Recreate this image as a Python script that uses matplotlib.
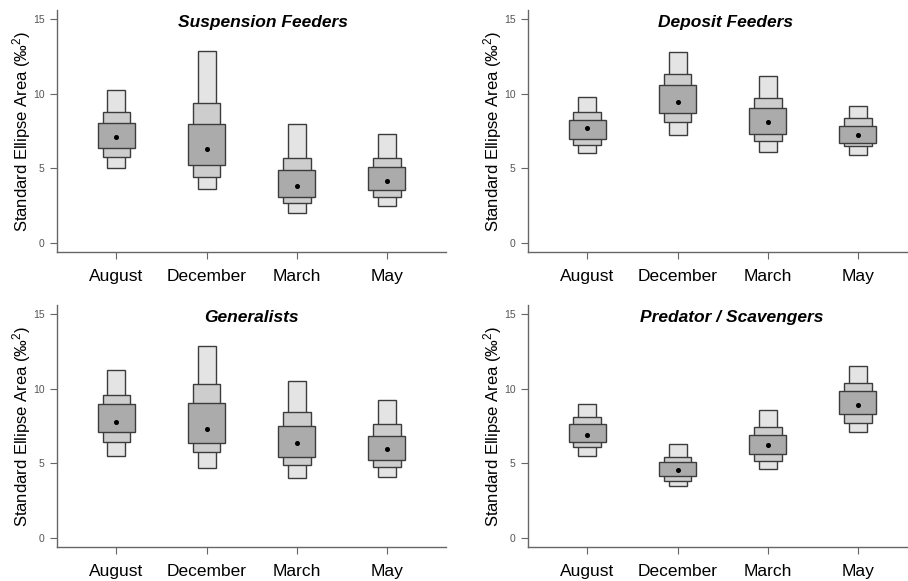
import matplotlib
matplotlib.use("Agg")
import matplotlib.pyplot as plt
from matplotlib.patches import Rectangle

plt.rcParams['font.family'] = ['Liberation Sans', 'DejaVu Sans']
plt.rcParams['mathtext.fontset'] = 'custom'
plt.rcParams['mathtext.rm'] = 'Liberation Sans'
plt.rcParams['mathtext.it'] = 'Liberation Sans:italic'

months = ["August", "December", "March", "May"]
groups = ["Suspension Feeders", "Deposit Feeders", "Generalists", "Predator / Scavengers"]

# credible intervals of SEA_B per group: lower/upper for 95, 75, 50 % and the mode
lo95 = [[5.04, 3.64, 2.02, 2.51], [6.01, 7.26, 6.08, 5.92],
        [5.50, 4.72, 4.03, 4.07], [5.50, 3.49, 4.63, 7.08]]
hi95 = [[10.27, 12.85, 7.99, 7.30], [9.78, 12.76, 11.20, 9.19],
        [11.24, 12.86, 10.51, 9.26], [8.95, 6.28, 8.57, 11.53]]
lo75 = [[5.79, 4.44, 2.66, 3.11], [6.57, 8.12, 6.81, 6.48],
        [6.41, 5.76, 4.87, 4.74], [6.10, 3.85, 5.14, 7.72]]
hi75 = [[8.74, 9.39, 5.72, 5.68], [8.74, 11.34, 9.74, 8.36],
        [9.61, 10.28, 8.44, 7.66], [8.12, 5.43, 7.46, 10.35]]
lo50 = [[6.35, 5.19, 3.11, 3.55], [6.94, 8.70, 7.32, 6.72],
        [7.08, 6.39, 5.43, 5.21], [6.43, 4.16, 5.65, 8.32]]
hi50 = [[8.01, 7.97, 4.88, 5.08], [8.23, 10.58, 9.05, 7.81],
        [8.97, 9.01, 7.50, 6.86], [7.66, 5.10, 6.88, 9.82]]
modes = [[7.12, 6.32, 3.84, 4.15], [7.68, 9.45, 8.12, 7.21],
         [7.77, 7.32, 6.37, 5.99], [6.92, 4.56, 6.23, 8.92]]

# axes positions (figure fraction) and title x (data units)
positions = [[0.0628, 0.5663, 0.4285, 0.4165], [0.5815, 0.5663, 0.4285, 0.4165],
             [0.0628, 0.0585, 0.4285, 0.4165], [0.5815, 0.0585, 0.4285, 0.4165]]
title_x = [2.63, 2.53, 2.50, 2.60]

levels = [(lo95, hi95, 0.20, "#e4e4e4"),
          (lo75, hi75, 0.31, "#cdcdcd"),
          (lo50, hi50, 0.41, "#ababab")]

fig = plt.figure(figsize=(9.08, 5.81), dpi=100)

for g in range(4):
    ax = fig.add_axes(positions[g])
    for lo, hi, w, col in levels:
        for i in range(len(months)):
            x = i + 1
            ax.add_patch(Rectangle((x - w / 2, lo[g][i]), w, hi[g][i] - lo[g][i],
                                   facecolor=col, edgecolor="#3c3c3c", linewidth=1.0))
    ax.plot(range(1, 5), modes[g], "o", color="black", markersize=2.6)
    ax.set_xlim(0.34, 4.66)
    ax.set_ylim(-0.6, 15.6)
    ax.set_xticks(range(1, 5))
    ax.set_xticklabels(months, fontsize=12.5)
    ax.set_yticks([0, 5, 10, 15])
    ax.set_yticklabels(["0", "5", "10", "15"], fontsize=7.5, color="#555555")
    ax.tick_params(axis="both", direction="out", length=5, width=0.8, color="#666666")
    ax.tick_params(axis="x", pad=7)
    ax.tick_params(axis="y", pad=4)
    for s in ["top", "right"]:
        ax.spines[s].set_visible(False)
    for s in ["left", "bottom"]:
        ax.spines[s].set_color("#666666")
        ax.spines[s].set_linewidth(1.0)
    ax.set_ylabel("Standard Ellipse Area (‰$^{2}$)", fontsize=12, labelpad=0)
    ax.text(title_x[g], 14.75, groups[g], fontsize=12.5, fontweight="bold",
            fontstyle="italic", ha="center", va="center")

fig.savefig("out.png", dpi=100)
